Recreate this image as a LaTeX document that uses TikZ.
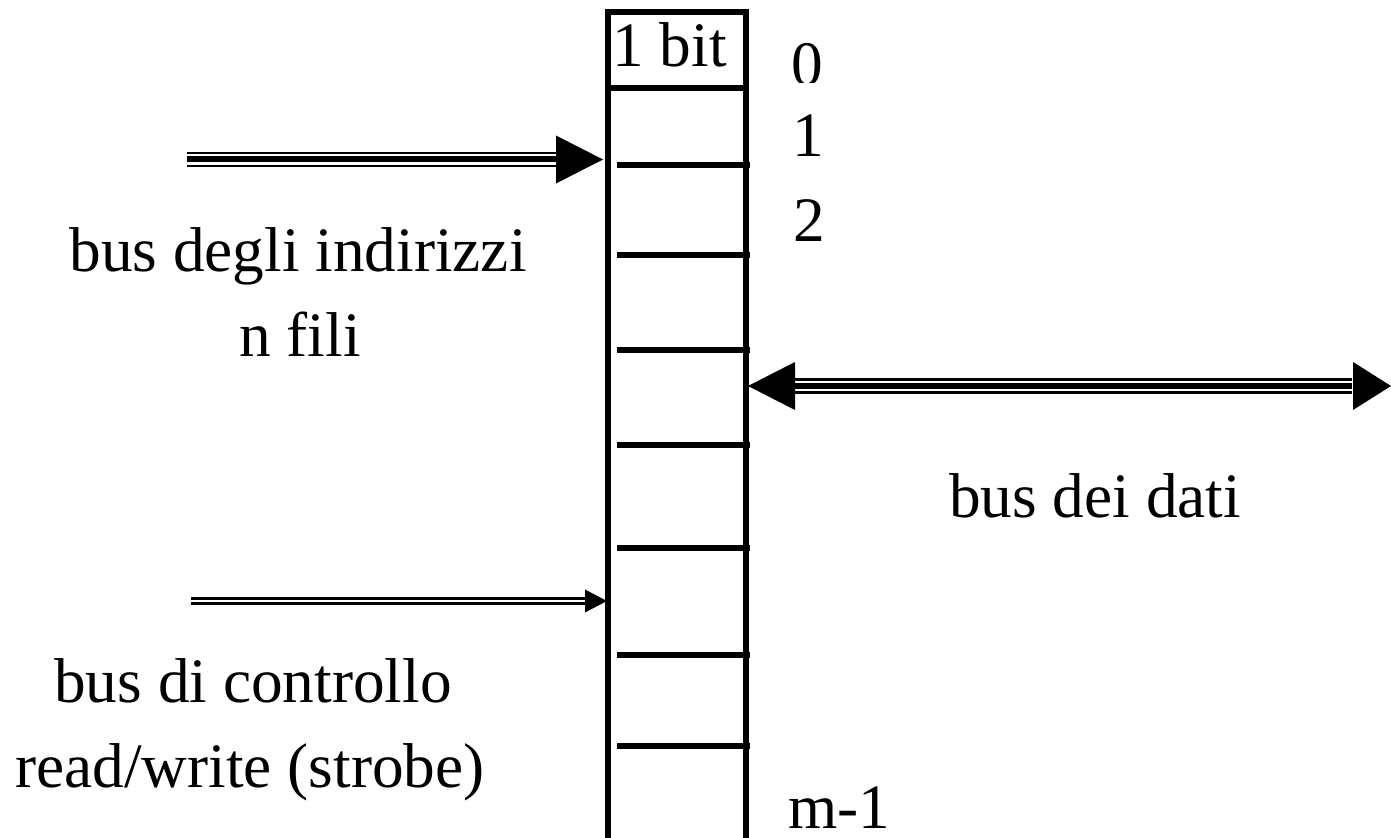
\documentclass[tikz,border=0pt]{standalone}
\usepackage{fontspec}
\setmainfont{Liberation Serif}
\usetikzlibrary{calc}
\begin{document}
\begin{tikzpicture}[x=0.5pt,y=-0.5pt,
  cell/.style={line width=2.8pt,line cap=butt},
  rowline/.style={line width=2.8pt},
  triplebus/.style={draw=black,line width=7.6pt,
     postaction={draw=white,line width=5.2pt},
     postaction={draw=black,line width=3pt}},
  doublebus/.style={draw=black,line width=4pt,
     postaction={draw=white,line width=1.3pt}},
  lbl/.style={inner sep=0pt,anchor=base,font=\fontsize{31.65}{38}\selectfont},
  lblw/.style={lbl,anchor=base west},
  head/.style={fill=black}]
\useasboundingbox (0,0) rectangle (1391,838);

% memory column
\coordinate (cTL) at (608,12);
\coordinate (cTR) at (746,12);
\coordinate (cBL) at (608,845);
\coordinate (cBR) at (746,845);
\draw[cell] (cBL) -- (cTL) -- (cTR) -- (cBR);
\draw[cell] (608,88) -- (746,88);
\foreach \yy in {165,255,350,445,548,655,746}
  \draw[rowline] (617,\yy) -- (750,\yy);

\node[lblw] (bit) at (612,67) {1 bit};
\begin{scope}
  \clip (760,0) rectangle (860,83);
  \node[lbl] (n0) at (807,86) {0};
\end{scope}
\node[lbl] (n1) at (808,157) {1};
\node[lbl] (n2) at (809,242) {2};
\node[lblw,text depth=0pt] (nm) at (788,828) {m-1};

% address bus
\coordinate (aS) at (187,159.5);
\coordinate (aB) at (560,159.5);
\coordinate (aT) at (603,159.5);
\draw[triplebus] (aS) -- (aB);
\fill[head] (aT) -- ($(aT)+(-47,-24)$) -- ($(aT)+(-47,24)$) -- cycle;
\node[lbl] (addr1) at (298,272) {bus degli indirizzi};
\node[lbl] (addr2) at (300,357) {n fili};

% data bus
\coordinate (dL) at (748,386);
\coordinate (dR) at (1391,386);
\coordinate (dLB) at (790,386);
\coordinate (dRB) at (1352,386);
\draw[triplebus] (dLB) -- (dRB);
\fill[head] (dL) -- ($(dL)+(47,-24)$) -- ($(dL)+(47,24)$) -- cycle;
\fill[head] (dR) -- ($(dR)+(-38,-24)$) -- ($(dR)+(-38,24)$) -- cycle;
\node[lbl] (data) at (1095,518) {bus dei dati};

% control bus
\coordinate (cS) at (191,601);
\coordinate (cB) at (588,601);
\coordinate (cT) at (607,601);
\draw[doublebus] (cS) -- (cB);
\fill[head] (cT) -- ($(cT)+(-22,-11.5)$) -- ($(cT)+(-22,11.5)$) -- cycle;
\node[lbl] (ctl1) at (253,702) {bus di controllo};
\node[lbl] (ctl2) at (250,787) {read/write (strobe)};
\end{tikzpicture}
\end{document}
